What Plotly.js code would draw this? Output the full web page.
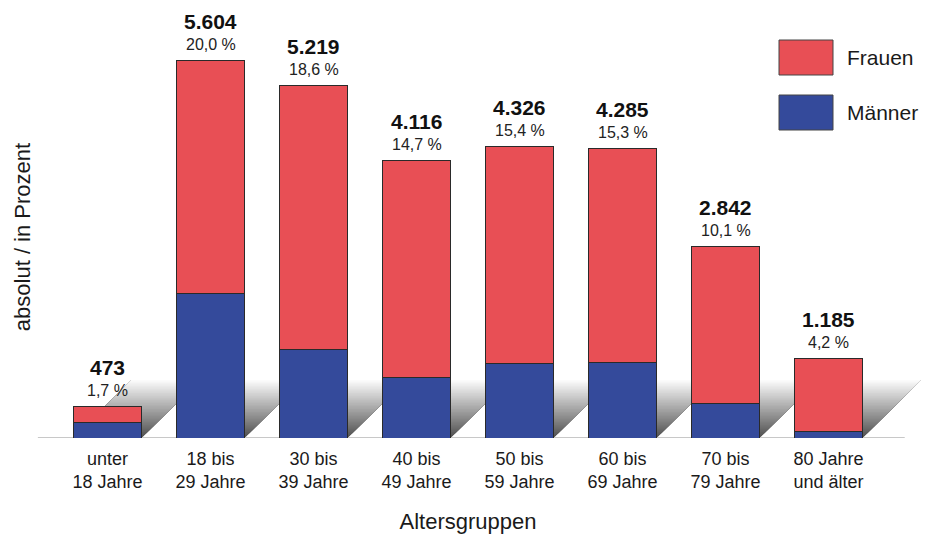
<!DOCTYPE html>
<html>
<head>
<meta charset="utf-8">
<script src="https://cdn.plot.ly/plotly-3.0.1.min.js"></script>
<style>html,body{margin:0;padding:0;background:#fff;}#chart{width:927px;height:537px;}</style>
</head>
<body>
<div id="chart"></div>
<script>
// ---- data ----
const categories = ['unter<br>18 Jahre', '18 bis<br>29 Jahre', '30 bis<br>39 Jahre', '40 bis<br>49 Jahre',
                    '50 bis<br>59 Jahre', '60 bis<br>69 Jahre', '70 bis<br>79 Jahre', '80 Jahre<br>und älter'];
const maenner = [225, 2135, 1305, 890, 1110, 1115, 505, 90];
const frauen  = [248, 3469, 3914, 3226, 3216, 3170, 2337, 1095];
const totalLabels   = ['473', '5.604', '5.219', '4.116', '4.326', '4.285', '2.842', '1.185'];
const percentLabels = ['1,7 %', '20,0 %', '18,6 %', '14,7 %', '15,4 %', '15,3 %', '10,1 %', '4,2 %'];

// ---- layout constants ----
const W = 927, H = 537;
const margin = {l: 56, r: 47, t: 36, b: 99};
const plotW = W - margin.l - margin.r;
const plotH = H - margin.t - margin.b;
const yMax = 5960;
const xRange = [-0.5, categories.length - 0.5];
const bargap = 0.34;
const red = '#E84F55', blue = '#344A9B';
const font = 'Liberation Sans, Arial, sans-serif';
const textColor = '#1a1a1a';

const traces = [
  {type: 'bar', name: 'Männer', x: categories, y: maenner, marker: {color: blue, line: {color: '#2a2a2a', width: 1}}, hoverinfo: 'x+y+name'},
  {type: 'bar', name: 'Frauen', x: categories, y: frauen, marker: {color: red, line: {color: '#2a2a2a', width: 1}}, hoverinfo: 'x+y+name'}
];

// ---- shadow (slanted floor shadow behind each bar), as overlapping gradient strips ----
// converted to paper coordinates so the shadow is not clipped at the plot edge
const xToPaper = x => (x - xRange[0]) / (xRange[1] - xRange[0]);
const yToPaper = y => y / yMax;
const shapes = [];
const pxPerCat = plotW / categories.length;
const unitsPerPx = yMax / plotH;
const depthPx = 58;
const dx = depthPx / pxPerCat;
const dy = depthPx * unitsPerPx;
const hw = (1 - bargap) / 2;
const N = 40;
for (let k = 0; k < N; k++) {
  const f0 = k / N;
  const y0 = f0 * dy, y1 = dy;
  const s0 = f0 * dx, s1 = dx;
  const ppath = [];
  for (let i = 0; i < categories.length; i++) {
    const pts = [[i - hw + s0, y0], [i + hw + s0, y0], [i + hw + s1, y1], [i - hw + s1, y1]]
      .map(p => xToPaper(p[0]).toFixed(5) + ',' + yToPaper(p[1]).toFixed(5));
    ppath.push('M' + pts.join(' L') + ' Z');
  }
  const c = Math.round(80 + (255 - 80) * f0);
  shapes.push({type: 'path', xref: 'paper', yref: 'paper', path: ppath.join(' '), fillcolor: `rgb(${c},${c},${c})`, line: {width: 0}, layer: 'below'});
}
// baseline
shapes.push({type: 'line', xref: 'paper', yref: 'y', x0: -0.022, x1: 1.03, y0: 0, y1: 0, line: {color: '#c8c8c8', width: 2}, layer: 'below'});

// ---- legend boxes (custom, large swatches) ----
const toPY = py => (H - margin.b - py) / plotH;
const toPX = px => (px - margin.l) / plotW;
const legendItems = [{name: 'Frauen', color: red, top: 40}, {name: 'Männer', color: blue, top: 95}];
const annotations = [];
legendItems.forEach(it => {
  shapes.push({type: 'rect', xref: 'paper', yref: 'paper', x0: toPX(779), x1: toPX(833), y0: toPY(it.top + 35), y1: toPY(it.top),
               fillcolor: it.color, line: {color: '#444', width: 1}});
  annotations.push({xref: 'paper', yref: 'paper', x: toPX(845), y: toPY(it.top + 18), xanchor: 'left', yanchor: 'middle',
                    text: it.name, showarrow: false, font: {family: font, size: 21, color: textColor}});
});

// ---- total / percent labels ----
categories.forEach((c, i) => {
  const tot = maenner[i] + frauen[i];
  annotations.push({x: c, y: tot, xref: 'x', yref: 'y', text: '<b>' + totalLabels[i] + '</b>', showarrow: false,
                    yanchor: 'middle', yshift: 39, font: {family: font, size: 21, color: '#111'}});
  annotations.push({x: c, y: tot, xref: 'x', yref: 'y', text: percentLabels[i], showarrow: false,
                    yanchor: 'middle', yshift: 16, font: {family: font, size: 16, color: '#222'}});
});

const layout = {
  width: W, height: H,
  margin: margin,
  paper_bgcolor: '#fff', plot_bgcolor: 'rgba(0,0,0,0)',
  barmode: 'stack', bargap: bargap,
  showlegend: false,
  font: {family: font, color: textColor},
  xaxis: {
    type: 'category', range: xRange, showgrid: false, zeroline: false, showline: false,
    ticks: '', ticklabelstandoff: 8, tickfont: {family: font, size: 18, color: textColor},
    title: {text: 'Altersgruppen', font: {family: font, size: 22, color: textColor}, standoff: 22},
    fixedrange: true
  },
  yaxis: {
    range: [0, yMax], showgrid: false, zeroline: false, showline: false, showticklabels: false, ticks: '',
    title: {text: 'absolut / in Prozent', font: {family: font, size: 22, color: textColor}, standoff: 18},
    fixedrange: true
  },
  shapes: shapes,
  annotations: annotations
};

Plotly.newPlot('chart', traces, layout, {displayModeBar: false, staticPlot: true});
</script>
</body>
</html>
